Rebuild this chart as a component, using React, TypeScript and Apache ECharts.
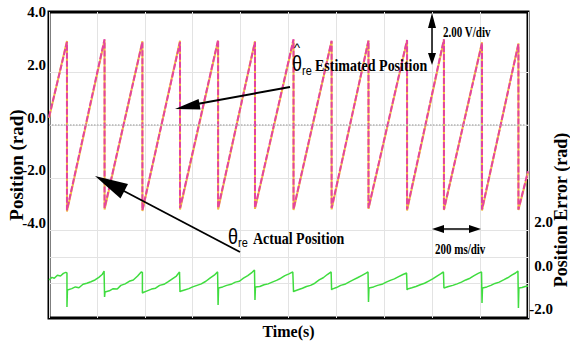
import React, { useEffect, useRef } from "react";
import * as echarts from "echarts";

// ---- data ----
const timeRangeMs = [0, 2000];
const leftTickLabels = [-4, -2, 0, 2, 4];
const leftGridValues = [-6, -5, -4, -2, 0, 2];
const rightTickLabels = [-2, 0, 2];

// time (ms) of each sawtooth wrap
const dropTimes = [75, 232, 390, 547, 706, 860, 1021, 1180, 1334, 1495, 1649, 1808, 1960];
const estimatedPeaks = [3.15, 3.26, 3.15, 3.15, 3.23, 3.15, 3.26, 3.2, 3.2, 3.23, 3.26, 3.11, 3.07];
const estimatedTroughs = [-3.23, -3.15, -3.23, -3.15, -3.15, -3.15, -3.19, -3.15, -3.15, -3.2, -3.2, -3.2, -3.2];
const actualPeaks = [3.19, 3.22, 3.18, 3.2, 3.2, 3.18, 3.22, 3.18, 3.21, 3.2, 3.22, 3.14, 3.1];
const actualTroughs = [-3.28, -3.2, -3.26, -3.2, -3.2, -3.18, -3.22, -3.2, -3.18, -3.24, -3.22, -3.24, -3.22];
const estimatedStartEnd = [0.3, -1.75];
const actualStartEnd = [0.27, -1.8];

// position error trace [ms, rad]
const positionError: [number, number][] = [
  [0, -0.3], [12, -0.18], [22, -0.22], [35, -0.08], [48, -0.12], [60, 0.0], [70, 0.05], [75, 0.02],
  [75, -1.54], [77, -0.76], [95, -0.7], [110, -0.62], [125, -0.66], [142, -0.5], [158, -0.45], [175, -0.38], [192, -0.3], [208, -0.18], [222, -0.05], [230, 0.11],
  [232, -1.08], [234, -0.85], [252, -0.8], [268, -0.7], [285, -0.72], [300, -0.55], [318, -0.48], [335, -0.36], [352, -0.3], [370, -0.12], [385, 0.07], [390, 0.05],
  [390, -0.9], [393, -0.88], [410, -0.8], [428, -0.72], [445, -0.68], [462, -0.55], [480, -0.5], [498, -0.38], [515, -0.25], [532, -0.12], [545, 0.07],
  [547, -0.85], [549, -0.82], [566, -0.76], [584, -0.7], [600, -0.62], [618, -0.55], [636, -0.48], [655, -0.36], [672, -0.22], [690, -0.08], [704, 0.07],
  [706, -1.45], [708, -0.67], [725, -0.62], [742, -0.55], [760, -0.5], [778, -0.4], [795, -0.36], [812, -0.22], [830, -0.1], [848, 0.05], [858, 0.16],
  [860, -1.22], [862, -0.62], [880, -0.6], [898, -0.52], [915, -0.48], [932, -0.4], [950, -0.32], [968, -0.22], [985, -0.1], [1002, -0.02], [1018, 0.07],
  [1021, -0.85], [1023, -0.82], [1040, -0.75], [1058, -0.68], [1075, -0.6], [1092, -0.55], [1110, -0.45], [1128, -0.3], [1145, -0.2], [1162, -0.05], [1178, 0.07],
  [1180, -0.76], [1182, -0.72], [1200, -0.65], [1218, -0.55], [1235, -0.5], [1252, -0.4], [1270, -0.3], [1288, -0.2], [1305, -0.1], [1322, 0.0], [1332, 0.07],
  [1334, -1.31], [1336, -0.67], [1355, -0.62], [1372, -0.55], [1390, -0.5], [1408, -0.4], [1425, -0.32], [1442, -0.25], [1460, -0.15], [1478, -0.05], [1493, 0.02],
  [1495, -0.76], [1497, -0.72], [1515, -0.66], [1532, -0.6], [1550, -0.52], [1568, -0.45], [1585, -0.35], [1602, -0.25], [1620, -0.12], [1635, -0.02], [1647, 0.07],
  [1649, -0.67], [1651, -0.65], [1668, -0.6], [1686, -0.55], [1704, -0.48], [1722, -0.4], [1740, -0.3], [1758, -0.22], [1775, -0.1], [1792, 0.0], [1806, 0.07],
  [1808, -1.36], [1810, -0.67], [1828, -0.62], [1845, -0.55], [1862, -0.46], [1880, -0.4], [1898, -0.3], [1915, -0.2], [1932, -0.08], [1948, 0.02], [1958, 0.11],
  [1960, -1.59], [1962, -0.67], [1975, -0.65], [1988, -0.6], [2000, -0.58],
];

function sawtooth(peaks: number[], troughs: number[], startEnd: number[]) {
  const pts: [number, number][] = [[timeRangeMs[0], startEnd[0]]];
  dropTimes.forEach((t, i) => {
    pts.push([t, peaks[i]]);
    pts.push([t, troughs[i]]);
  });
  pts.push([timeRangeMs[1], startEnd[1]]);
  return pts;
}

const SERIF = '"Liberation Serif", "Times New Roman", serif';
const SANS = '"Liberation Sans", Arial, sans-serif';

function txt(x: number, y: number, text: string, font: string, align = "left", scaleY = 1.25, rotation = 0) {
  return {
    type: "text",
    x,
    y,
    scaleY,
    rotation,
    style: { text, font, fill: "#000", textAlign: align, textVerticalAlign: "middle" },
    z: 100,
  };
}

export default function App() {
  const ref = useRef<HTMLDivElement>(null);
  useEffect(() => {
    if (!ref.current) return;
    const chart = echarts.init(ref.current, null, { renderer: "svg" });
    const axisLabelFont = { fontFamily: SERIF, fontWeight: "bold", fontSize: 15, color: "#000" };
    const hiddenAxisParts = {
      axisLine: { show: false, onZero: false },
      axisTick: { show: false },
    };
    const option: any = {
      animation: false,
      backgroundColor: "#fff",
      grid: [
        {
          left: 49,
          right: 42,
          top: 12,
          bottom: 26,
          containLabel: false,
          outerBoundsMode: "none",
          show: true,
          borderColor: "#000",
          borderWidth: 3,
        },
        {
          left: 49,
          right: 42,
          top: 102,
          bottom: 26,
          containLabel: false,
          outerBoundsMode: "none",
          show: false,
        },
      ],
      xAxis: [
        {
          type: "value",
          gridIndex: 0,
          min: timeRangeMs[0],
          max: timeRangeMs[1],
          interval: 200,
          ...hiddenAxisParts,
          axisLabel: { show: false },
          splitLine: { show: true, lineStyle: { color: "#e3e3e3", width: 1 } },
          name: "Time(s)",
          nameLocation: "middle",
          nameGap: 5,
          nameMoveOverlap: false,
          nameTextStyle: { fontFamily: SERIF, fontWeight: "bold", fontSize: 16, color: "#000" },
        },
        {
          type: "value",
          gridIndex: 1,
          min: timeRangeMs[0],
          max: timeRangeMs[1],
          ...hiddenAxisParts,
          axisLabel: { show: false },
          splitLine: { show: false },
        },
      ],
      yAxis: [
        {
          type: "value",
          gridIndex: 0,
          position: "left",
          min: -7.32,
          max: 4.29,
          axisLine: { show: false, onZero: false },
          axisTick: { show: false, customValues: leftGridValues },
          axisLabel: {
            ...axisLabelFont,
            customValues: leftTickLabels,
            margin: 3,
            verticalAlign: "bottom",
            formatter: (v: number) => v.toFixed(1),
          },
          splitLine: { show: true, lineStyle: { color: "#e3e3e3", width: 1 } },
          name: "Position (rad)",
          nameLocation: "middle",
          nameRotate: 90,
          nameGap: 23,
          nameMoveOverlap: false,
          nameTextStyle: { fontFamily: SERIF, fontWeight: "bold", fontSize: 19, color: "#000" },
        },
        {
          type: "value",
          gridIndex: 1,
          position: "right",
          min: -2.05,
          max: 7.885,
          ...hiddenAxisParts,
          axisLabel: {
            ...axisLabelFont,
            customValues: rightTickLabels,
            margin: 25,
            align: "right",
            verticalAlign: "bottom",
            formatter: (v: number) => v.toFixed(1),
          },
          splitLine: { show: false },
        },
      ],
      series: [
        {
          name: "Actual Position",
          type: "line",
          xAxisIndex: 0,
          yAxisIndex: 0,
          data: sawtooth(actualPeaks, actualTroughs, actualStartEnd),
          showSymbol: false,
          lineStyle: { color: "#f2bc44", width: 2 },
          z: 3,
        },
        {
          name: "Estimated Position",
          type: "line",
          xAxisIndex: 0,
          yAxisIndex: 0,
          data: sawtooth(estimatedPeaks, estimatedTroughs, estimatedStartEnd),
          showSymbol: false,
          lineStyle: { color: "#e4449f", width: 2, type: [6, 2] },
          z: 4,
          markLine: {
            silent: true,
            symbol: "none",
            label: { show: false },
            lineStyle: { color: "#b5b5b5", type: "dotted", width: 1.5 },
            data: [{ yAxis: 0 }],
          },
        },
        {
          name: "Position Error",
          type: "line",
          xAxisIndex: 1,
          yAxisIndex: 1,
          data: positionError,
          showSymbol: false,
          lineStyle: { color: "#3fdc3f", width: 1.5 },
          z: 3,
        },
      ],
      graphic: [
        // right axis title
        txt(561, 210, "Position Error (rad)", `bold 18px ${SERIF}`, "center", 1, Math.PI / 2),
        // 2.00 V/div arrow
        { type: "line", shape: { x1: 432, y1: 24, x2: 432, y2: 58 }, style: { stroke: "#000", lineWidth: 1.5 }, z: 100 },
        { type: "polygon", shape: { points: [[432, 13], [428, 28], [436, 28]] }, style: { fill: "#000" }, z: 100 },
        { type: "polygon", shape: { points: [[432, 65], [428, 53], [436, 53]] }, style: { fill: "#000" }, z: 100 },
        txt(443, 33, "2.00 V/div", `bold 11px ${SERIF}`),
        // 200 ms/div arrow
        { type: "line", shape: { x1: 440, y1: 229, x2: 472, y2: 229 }, style: { stroke: "#000", lineWidth: 1.5 }, z: 100 },
        { type: "polygon", shape: { points: [[432, 229], [444, 225], [444, 233]] }, style: { fill: "#000" }, z: 100 },
        { type: "polygon", shape: { points: [[481, 229], [469, 225], [469, 233]] }, style: { fill: "#000" }, z: 100 },
        txt(435, 250, "200 ms/div", `bold 11px ${SERIF}`),
        // estimated label
        txt(297, 47, "^", `13px ${SANS}`, "center", 1),
        txt(297, 63, "θ", `18px ${SANS}`, "center", 1.25),
        txt(302, 71, "re", `11px ${SANS}`, "left", 1.1),
        txt(315, 65, "Estimated Position", `bold 14px ${SERIF}`),
        { type: "line", shape: { x1: 290, y1: 87, x2: 197, y2: 104 }, style: { stroke: "#000", lineWidth: 2 }, z: 100 },
        { type: "polygon", shape: { points: [[175, 109], [200.5, 109.5], [198.6, 99]] }, style: { fill: "#000" }, z: 100 },
        // actual label
        txt(233, 236, "θ", `18px ${SANS}`, "center", 1.25),
        txt(238, 243, "re", `11px ${SANS}`, "left", 1.1),
        txt(253, 238, "Actual Position", `bold 14px ${SERIF}`),
        { type: "line", shape: { x1: 240, y1: 252, x2: 122, y2: 190 }, style: { stroke: "#000", lineWidth: 1.8 }, z: 100 },
        { type: "polygon", shape: { points: [[95, 176], [120.5, 198.5], [128, 184]] }, style: { fill: "#000" }, z: 100 },
      ],
    };
    chart.setOption(option);
    return () => chart.dispose();
  }, []);
  return <div ref={ref} style={{ position: "absolute", left: 0, top: 0, width: 570, height: 344 }} />;
}
